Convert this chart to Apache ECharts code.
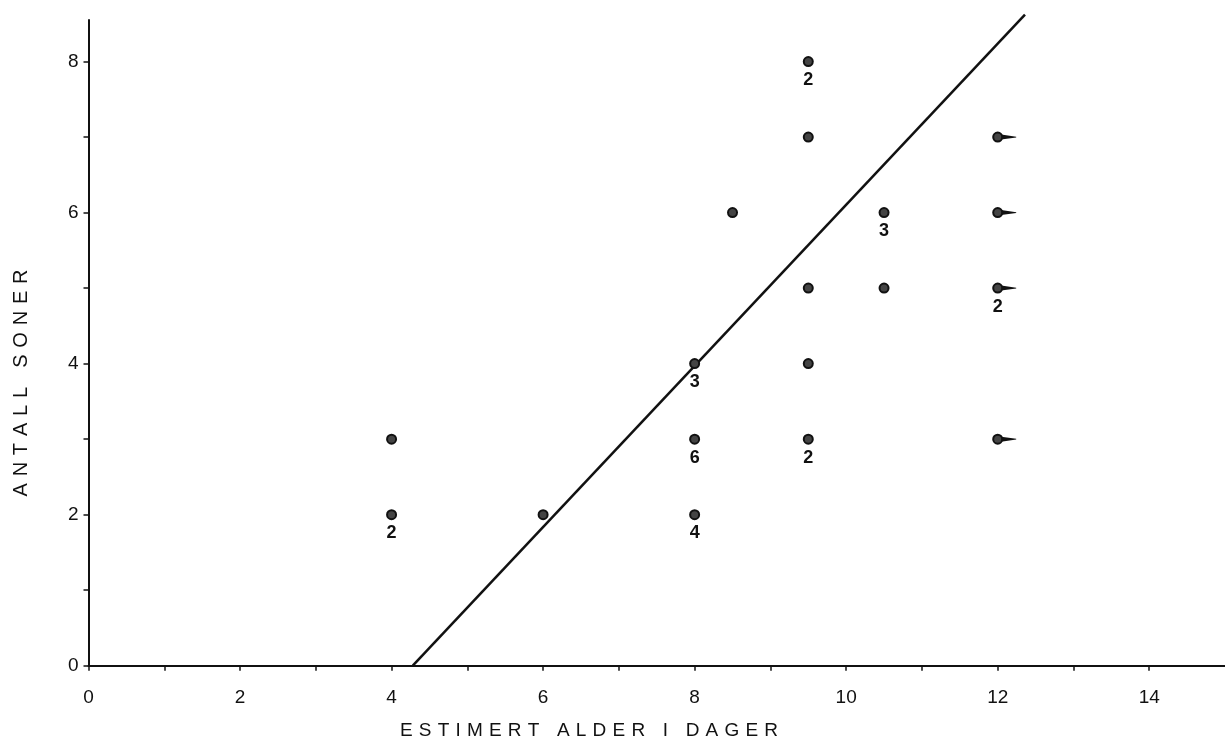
<!DOCTYPE html>
<html>
<head>
<meta charset="utf-8">
<title>Antall soner mot estimert alder</title>
<script src="https://cdn.jsdelivr.net/npm/echarts@6/dist/echarts.min.js"></script>
<style>
  html, body { margin: 0; padding: 0; background: #fff; }
  #chart { width: 1225px; height: 743px; }
</style>
</head>
<body>
<div id="chart"></div>
<script>
// Observations: estimated age (days), number of zones, number of coinciding fish
const ageDays = [4, 4, 6, 8, 8, 8, 8.5, 9.5, 9.5, 9.5, 9.5, 9.5, 10.5, 10.5, 12, 12, 12, 12];
const zones   = [3, 2, 2, 4, 3, 2, 6,   8,   7,   5,   4,   3,   6,    5,    7,  6,  5,  3];
const counts  = [1, 2, 1, 3, 6, 4, 1,   2,   1,   1,   1,   2,   3,    1,    1,  1,  2,  1];
// Fish aged "12 or more" are drawn with a tail pointing right
const olderThan = [false, false, false, false, false, false, false, false, false,
                   false, false, false, false, false, true, true, true, true];

// Fitted regression line (end points)
const fitX = [4.28, 12.36];
const fitY = [0, 8.62];

const xTicks = [0, 1, 2, 3, 4, 5, 6, 7, 8, 9, 10, 11, 12, 13, 14];
const xTickLabels = [0, 2, 4, 6, 8, 10, 12, 14];
const yTicks = [0, 1, 2, 3, 4, 5, 6, 7, 8];
const yTickLabels = [0, 2, 4, 6, 8];

const xTitle = 'ESTIMERT ALDER I DAGER';
const yTitle = 'ANTALL SONER';

const INK = '#111';
const FONT = 'Liberation Sans, Arial, Helvetica, sans-serif';

const pointData = ageDays.map((x, i) => ({
  value: [x, zones[i]],
  label: { show: counts[i] > 1, formatter: String(counts[i]) }
}));
const tailData = ageDays
  .map((x, i) => [x, zones[i]])
  .filter((_, i) => olderThan[i]);
const fitData = fitX.map((x, i) => [x, fitY[i]]);

// Letter-spaced title built from individual characters
function spacedTitle(text, fontSize, targetWidth) {
  const font = fontSize + 'px ' + FONT;
  const ctx = document.createElement('canvas').getContext('2d');
  ctx.font = font;
  const chars = Array.from(text);
  const widths = chars.map(c => ctx.measureText(c).width);
  const natural = widths.reduce((a, b) => a + b, 0);
  const gap = (targetWidth - natural) / (chars.length - 1);
  let x = -targetWidth / 2;
  return chars.map((c, i) => {
    const el = {
      type: 'text',
      x: x,
      y: 0,
      style: {
        text: c,
        font: font,
        fill: INK,
        textAlign: 'left',
        textVerticalAlign: 'middle',
        verticalAlign: 'middle'
      }
    };
    x += widths[i] + gap;
    return el;
  });
}

const chart = echarts.init(document.getElementById('chart'), null, { renderer: 'canvas' });

chart.setOption({
  backgroundColor: '#fff',
  animation: false,
  grid: { left: 88.5, right: 0, top: 20, bottom: 77.3, containLabel: false },
  xAxis: {
    type: 'value',
    min: 0,
    max: 15,
    interval: 1,
    splitLine: { show: false },
    axisLine: { show: true, onZero: false, lineStyle: { color: INK, width: 2 } },
    axisTick: { show: true, inside: false, length: 5, customValues: xTicks,
                lineStyle: { color: INK, width: 1.5 } },
    axisLabel: { show: true, customValues: xTickLabels, margin: 23,
                 color: INK, fontSize: 19, fontFamily: FONT }
  },
  yAxis: {
    type: 'value',
    min: 0,
    max: 8.55,
    interval: 1,
    splitLine: { show: false },
    axisLine: { show: true, onZero: false, lineStyle: { color: INK, width: 2 } },
    axisTick: { show: true, inside: false, length: 5, customValues: yTicks,
                lineStyle: { color: INK, width: 1.5 } },
    axisLabel: { show: true, customValues: yTickLabels, margin: 10,
                 color: INK, fontSize: 19, fontFamily: FONT }
  },
  series: [
    {
      type: 'line',
      data: fitData,
      showSymbol: false,
      symbol: 'none',
      clip: false,
      lineStyle: { color: INK, width: 2.5 },
      z: 2
    },
    {
      type: 'scatter',
      data: tailData,
      symbol: 'path://M0,0L15,2.1L15,2.9L0,5Z',
      symbolSize: [15, 5],
      symbolOffset: [11, 0],
      itemStyle: { color: INK, opacity: 1 },
      z: 3
    },
    {
      type: 'scatter',
      data: pointData,
      symbol: 'circle',
      symbolSize: 9,
      itemStyle: { color: '#444', borderColor: INK, borderWidth: 2, opacity: 1 },
      label: {
        position: 'bottom',
        distance: 4,
        color: INK,
        opacity: 1,
        fontSize: 18,
        fontWeight: 'bold',
        fontFamily: FONT
      },
      z: 4
    }
  ],
  graphic: [
    { type: 'group', x: 589, y: 731, children: spacedTitle(xTitle, 19, 378) },
    { type: 'group', x: 21, y: 383, rotation: Math.PI / 2, children: spacedTitle(yTitle, 20, 227) }
  ]
});
</script>
</body>
</html>
